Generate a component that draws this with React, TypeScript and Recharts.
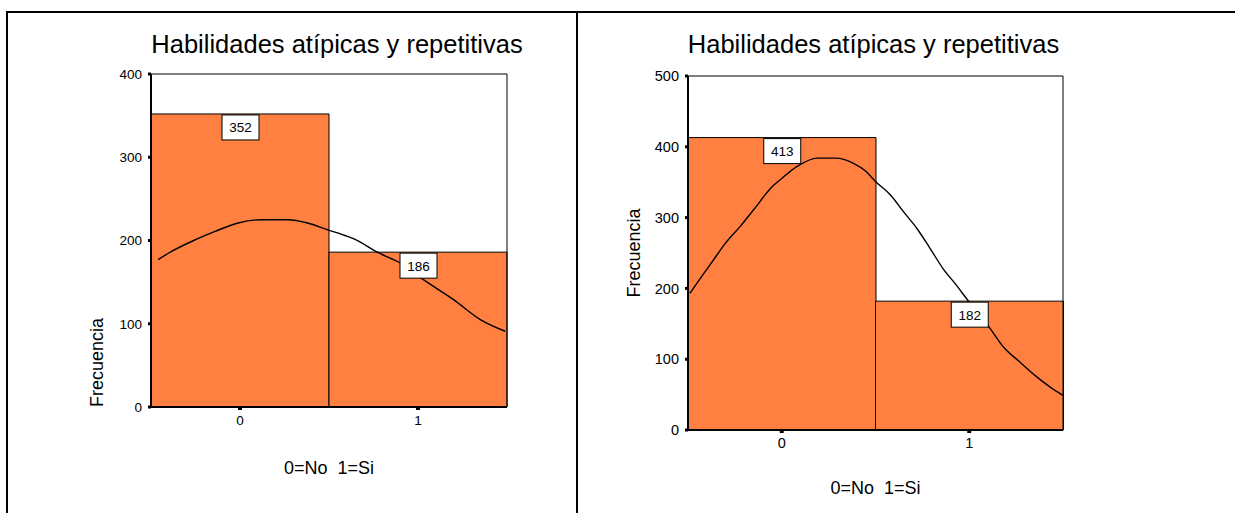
import { ComposedChart, Bar, Line, Scatter, XAxis, YAxis, ReferenceLine } from 'recharts';

const categories = ['0', '1'];
const leftCounts = [352, 186];
const rightCounts = [413, 182];
const leftTicks = [0, 100, 200, 300, 400];
const rightTicks = [0, 100, 200, 300, 400, 500];

// normal curve (x in category units, y in counts)
const leftCurveX = [-0.46, -0.4, -0.25, -0.14, -0.01, 0.12, 0.27, 0.38, 0.49, 0.59, 0.64, 0.78, 0.9, 1.03, 1.2, 1.35, 1.49];
const leftCurveY = [177, 185, 201, 211, 221, 225, 225, 221, 213, 206, 202, 185, 173, 153, 129, 105, 91];
const rightCurveX = [-0.49, -0.44, -0.37, -0.3, -0.22, -0.15, -0.05, -0.01, 0.08, 0.19, 0.29, 0.38, 0.45, 0.5, 0.58, 0.65, 0.72, 0.79, 0.86, 0.93, 0.99, 1.11, 1.18, 1.27, 1.36, 1.43, 1.5];
const rightCurveY = [193, 212, 238, 264, 288, 311, 344, 353, 372, 384, 384, 377, 365, 351, 332, 308, 285, 257, 228, 205, 184, 144, 118, 96, 75, 61, 49];

const FONT = '"Liberation Sans", Arial, sans-serif';
const ORANGE = '#FF8040';

const ValueBox = (props: any) => {
  const { cx, cy, payload } = props;
  return (
    <g>
      <rect x={cx - 18} y={cy + 1} width={37} height={25} fill="#fff" stroke="#000" strokeWidth={1} />
      <text x={cx + 0.5} y={cy + 18.5} textAnchor="middle" fontSize={13.5} fill="#000" fontFamily={FONT}>
        {payload.n}
      </text>
    </g>
  );
};

type PanelProps = {
  counts: number[];
  curveX: number[];
  curveY: number[];
  ticks: number[];
  yMax: number;
  left: number;
  width: number;
  margin: { top: number; right: number; bottom: number; left: number };
  tickFont: number;
  titleX: number;
  xTitle: { x: number; y: number };
  yTitle: { x: number; y: number; anchor: 'start' | 'middle' };
};

function Panel(p: PanelProps) {
  const bars = categories.map((c, i) => ({ cat: c, n: p.counts[i] }));
  const curve = p.curveX.map((x, i) => ({ x, y: p.curveY[i] }));
  return (
    <div style={{ position: 'absolute', left: p.left, top: 0 }}>
      <ComposedChart width={p.width} height={513} data={bars} margin={p.margin} barCategoryGap={0} barGap={0}>
        <XAxis
          xAxisId="cat"
          dataKey="cat"
          type="category"
          height={30}
          tickSize={3}
          tickMargin={5}
          tickLine={{ stroke: '#000', strokeWidth: 4 }}
          axisLine={{ stroke: '#000', strokeWidth: 2 }}
          tick={{ fontSize: p.tickFont, fill: '#000', fontFamily: FONT }}
          label={() => (
            <text x={p.xTitle.x} y={p.xTitle.y} textAnchor="middle" fontSize={18} fill="#000" fontFamily={FONT}>
              {'0=No\u00a0 1=Si'}
            </text>
          )}
        />
        <XAxis xAxisId="num" dataKey="x" type="number" domain={[-0.5, 1.5]} hide />
        <YAxis
          width={60}
          domain={[0, p.yMax]}
          ticks={p.ticks}
          interval={0}
          tickSize={3}
          tickMargin={6}
          tickLine={{ stroke: '#000', strokeWidth: 3 }}
          axisLine={{ stroke: '#000', strokeWidth: 2 }}
          tick={{ fontSize: p.tickFont, fill: '#000', fontFamily: FONT }}
          label={() => (
            <text
              x={p.yTitle.x}
              y={p.yTitle.y}
              transform={`rotate(-90, ${p.yTitle.x}, ${p.yTitle.y})`}
              textAnchor={p.yTitle.anchor}
              fontSize={18}
              fill="#000"
              fontFamily={FONT}
            >
              Frecuencia
            </text>
          )}
        />
        <Bar xAxisId="cat" dataKey="n" fill={ORANGE} stroke="#000" strokeWidth={1} isAnimationActive={false} />
        <ReferenceLine y={p.yMax} xAxisId="num" stroke="#000" strokeWidth={1} />
        <ReferenceLine x={1.5} xAxisId="num" stroke="#000" strokeWidth={1} />
        <Line
          xAxisId="num"
          data={curve}
          dataKey="y"
          type="monotone"
          dot={false}
          stroke="#000"
          strokeWidth={1.4}
          isAnimationActive={false}
        />
        <Scatter xAxisId="cat" dataKey="n" shape={ValueBox} isAnimationActive={false} />
        <text x={p.titleX} y={53} textAnchor="middle" fontSize={25.5} fill="#000" fontFamily={FONT}>
          Habilidades atípicas y repetitivas
        </text>
      </ComposedChart>
    </div>
  );
}

export default function App() {
  return (
    <div style={{ position: 'fixed', left: 0, top: 0, width: 1235, height: 513, background: '#fff', fontFamily: FONT, overflow: 'hidden' }}>
      <div style={{ position: 'absolute', left: 6, top: 11, width: 1229, height: 2, background: '#000' }} />
      <div style={{ position: 'absolute', left: 6, top: 11, width: 2, height: 502, background: '#000' }} />
      <div style={{ position: 'absolute', left: 576, top: 11, width: 2, height: 502, background: '#000' }} />
      <Panel
        counts={leftCounts}
        curveX={leftCurveX}
        curveY={leftCurveY}
        ticks={leftTicks}
        yMax={400}
        left={0}
        width={577}
        margin={{ top: 74, right: 70, bottom: 76, left: 91 }}
        tickFont={13.5}
        titleX={337}
        xTitle={{ x: 329, y: 474 }}
        yTitle={{ x: 103, y: 407, anchor: 'start' }}
      />
      <Panel
        counts={rightCounts}
        curveX={rightCurveX}
        curveY={rightCurveY}
        ticks={rightTicks}
        yMax={500}
        left={577}
        width={658}
        margin={{ top: 76, right: 172, bottom: 53, left: 51 }}
        tickFont={14.5}
        titleX={296.5}
        xTitle={{ x: 298.5, y: 494 }}
        yTitle={{ x: 63, y: 253, anchor: 'middle' }}
      />
    </div>
  );
}
